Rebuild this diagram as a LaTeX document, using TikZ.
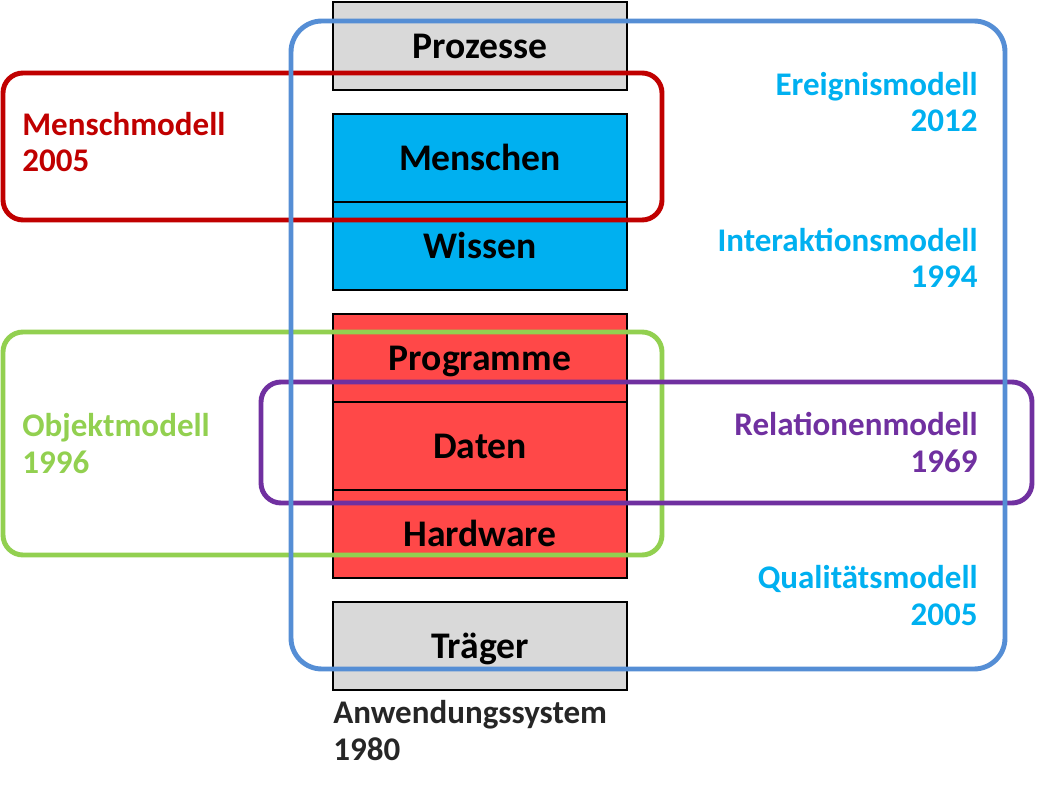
\documentclass[tikz,border=0pt]{standalone}
\usepackage{fontspec}
\setmainfont{Carlito}
\definecolor{layergray}{HTML}{D9D9D9}
\definecolor{layercyan}{HTML}{00B0F0}
\definecolor{layerred}{HTML}{FF4848}
\definecolor{outlineblue}{HTML}{558ED5}
\definecolor{outlinered}{HTML}{C00000}
\definecolor{outlinegreen}{HTML}{92D050}
\definecolor{outlinepurple}{HTML}{7030A0}
\definecolor{labelcyan}{HTML}{00B0F0}
\definecolor{labeldark}{HTML}{262626}

\begin{document}
\begin{tikzpicture}
	[x=0.02cm,y=-0.02cm,
	 layer/.style={draw=black,line width=1.6pt,minimum width=5.88cm,minimum height=1.76cm,inner sep=0pt,
	   text height=13.7pt,text depth=0pt,font=\fontsize{21.4}{25}\selectfont\bfseries},
	 model/.style={rounded corners=0.4cm,line width=2.8pt},
	 label/.style={inner sep=0pt,font=\fontsize{18.8}{20.5}\selectfont\bfseries}]
	\useasboundingbox (0,0) rectangle (1037,790);
	
	% layers of the system
	\node[layer,fill=layergray] (prozesse) at (480,46) {Prozesse};
	\node[layer,fill=layercyan] (menschen) at (480,158) {Menschen};
	\node[layer,fill=layercyan] (wissen) at (480,246) {Wissen};
	\node[layer,fill=layerred] (programme) at (480,358) {Programme};
	\node[layer,fill=layerred] (daten) at (480,446) {Daten};
	\node[layer,fill=layerred] (hardware) at (480,534) {Hardware};
	\node[layer,fill=layergray] (traeger) at (480,646) {Träger};
	
	% models
	\draw[model,outlinered] (3,73) rectangle (662,220);
	\draw[model,outlinegreen] (3,332) rectangle (662,555);
	\draw[model,outlinepurple] (261,382) rectangle (1032,503);
	\draw[model,outlineblue,rounded corners=0.62cm] (291,21) rectangle (1005,669);
	
	% labels (base = last line)
	\node[label,text=outlinered,anchor=base west,align=left] (menschmodell) at (22,172) {Menschmodell\\2005};
	\node[label,text=outlinegreen,anchor=base west,align=left] (objektmodell) at (22,473) {Objektmodell\\1996};
	\node[label,text=labelcyan,anchor=base east,align=right] (ereignismodell) at (978,132) {Ereignismodell\\2012};
	\node[label,text=labelcyan,anchor=base east,align=right] (interaktionsmodell) at (978,288) {Interaktionsmodell\\1994};
	\node[label,text=outlinepurple,anchor=base east,align=right] (relationenmodell) at (978,472) {Relationenmodell\\1969};
	\node[label,text=labelcyan,anchor=base east,align=right] (qualitaetsmodell) at (978,625) {Qualitätsmodell\\2005};
	\node[label,text=labeldark,anchor=base west,align=left] (anwendungssystem) at (333,760) {Anwendungssystem\\1980};
\end{tikzpicture}
\end{document}
